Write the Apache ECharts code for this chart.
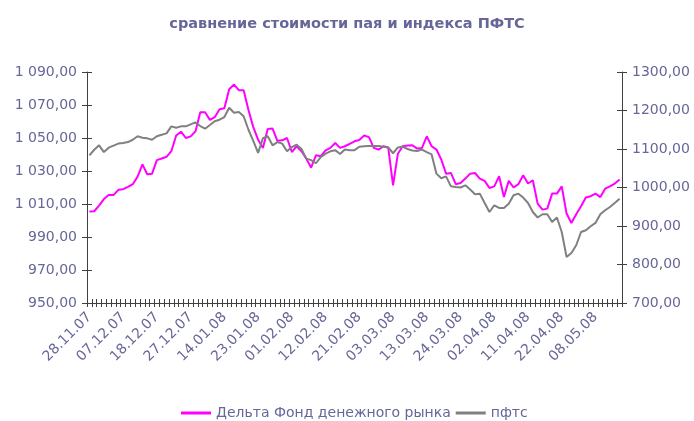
<!DOCTYPE html>
<html>
<head>
<meta charset="utf-8">
<script src="https://cdn.jsdelivr.net/npm/echarts@6/dist/echarts.min.js"></script>
<style>
  html, body { margin: 0; padding: 0; background: #fff; }
  #main { width: 694px; height: 421px; }
</style>
</head>
<body>
<div id="main"></div>
<script>
var dates = [
  "28.11.07", "29.11.07", "30.11.07", "03.12.07", "04.12.07", "05.12.07", "06.12.07",
  "07.12.07", "10.12.07", "11.12.07", "12.12.07", "13.12.07", "14.12.07", "17.12.07",
  "18.12.07", "19.12.07", "20.12.07", "21.12.07", "24.12.07", "25.12.07", "26.12.07",
  "27.12.07", "28.12.07", "03.01.08", "08.01.08", "09.01.08", "10.01.08", "11.01.08",
  "14.01.08", "15.01.08", "16.01.08", "17.01.08", "18.01.08", "21.01.08", "22.01.08",
  "23.01.08", "24.01.08", "25.01.08", "28.01.08", "29.01.08", "30.01.08", "31.01.08",
  "01.02.08", "04.02.08", "05.02.08", "06.02.08", "07.02.08", "08.02.08", "11.02.08",
  "12.02.08", "13.02.08", "14.02.08", "15.02.08", "18.02.08", "19.02.08", "20.02.08",
  "21.02.08", "22.02.08", "25.02.08", "26.02.08", "27.02.08", "28.02.08", "29.02.08",
  "03.03.08", "04.03.08", "05.03.08", "06.03.08", "07.03.08", "11.03.08", "12.03.08",
  "13.03.08", "14.03.08", "17.03.08", "18.03.08", "19.03.08", "20.03.08", "21.03.08",
  "24.03.08", "25.03.08", "26.03.08", "27.03.08", "28.03.08", "31.03.08", "01.04.08",
  "02.04.08", "03.04.08", "04.04.08", "07.04.08", "08.04.08", "09.04.08", "10.04.08",
  "11.04.08", "14.04.08", "15.04.08", "16.04.08", "17.04.08", "18.04.08", "21.04.08",
  "22.04.08", "23.04.08", "24.04.08", "25.04.08", "29.04.08", "06.05.08", "07.05.08",
  "08.05.08", "12.05.08", "13.05.08", "14.05.08", "15.05.08", "16.05.08"
];

// стоимость пая (левая ось)
var fundValues = [
  1005.4, 1005.6, 1009, 1013, 1015.4, 1015.4, 1018.6, 1019, 1020.4, 1022,
  1026.6, 1034, 1028, 1028.4, 1036.6, 1037.6, 1038.6, 1042, 1051.5, 1053.8,
  1050, 1051, 1054, 1065.6, 1065.6, 1061, 1062.6, 1067.4, 1068, 1079.6,
  1082.4, 1079, 1079, 1067, 1056.6, 1049, 1044, 1055.5, 1055.7, 1048.3,
  1048.6, 1050, 1041.5, 1045, 1042, 1037.5, 1032, 1039.5, 1039, 1042.5,
  1044, 1047, 1044, 1045, 1046.5, 1048, 1048.8, 1051.5, 1050.5, 1044,
  1043, 1045, 1044.2, 1021.3, 1040.5, 1045, 1045.5, 1045.6, 1043.6, 1044,
  1051, 1045, 1043, 1037, 1028.4, 1028.8, 1022, 1022.7, 1025.4, 1028.4,
  1028.8, 1025.4, 1024, 1019.7, 1020.7, 1026.8, 1014.2, 1024, 1020, 1022,
  1027.4, 1022.4, 1024.4, 1010.2, 1006.6, 1007.2, 1016.3, 1016.3, 1020.7, 1004.2,
  998.5, 1003.8, 1008.6, 1013.9, 1014.7, 1016.3, 1014.2, 1019.3, 1020.7, 1022.4,
  1024.8
];

// индекс ПФТС (правая ось)
var pftsValues = [
  1083.5, 1098, 1109.5, 1092, 1103.4, 1108.6, 1114, 1115.5, 1118, 1124,
  1133, 1129.4, 1127.7, 1124, 1133, 1137, 1140.6, 1158.8, 1155, 1158.8,
  1158.8, 1164, 1169, 1159.7, 1152.8, 1162.3, 1172, 1176, 1183, 1207,
  1194, 1196, 1185, 1150, 1121, 1090, 1128, 1133, 1109.6, 1118,
  1114, 1094, 1105, 1111, 1100, 1075, 1071, 1063, 1079, 1088,
  1094, 1097, 1087, 1098.5, 1097, 1097, 1106, 1107, 1108, 1108,
  1108, 1106, 1104, 1089, 1104, 1106, 1100, 1096, 1095, 1098.5,
  1092, 1086, 1036, 1024, 1029, 1003, 1001.4, 1000, 1005.7, 994.6,
  982.4, 984, 959.8, 936.4, 953.8, 946.8, 946.8, 958, 980, 984,
  973.8, 959.8, 936.4, 922, 930.5, 930.5, 910.5, 922, 884.5, 819.6,
  830, 850, 884.5, 889, 899.3, 908, 930.5, 941, 949.4, 959.8,
  971
];

var leftTicks = [950, 1090, 20];
var rightTicks = [700, 1300, 100];

var textColor = "#666699";
var axisColor = "#404040";
var font = "DejaVu Sans";

function fmtLeft(v) {
  var s = v.toFixed(2).replace(".", ",");
  var parts = s.split(",");
  var intPart = parts[0].replace(/\B(?=(\d{3})+(?!\d))/g, " ");
  return intPart + "," + parts[1];
}

function fmtRight(v) {
  return v.toFixed(2).replace(".", ",");
}

var myChart = echarts.init(document.getElementById("main"));

myChart.setOption({
  animation: false,
  textStyle: { fontFamily: font },
  title: {
    text: "сравнение стоимости пая и индекса ПФТС",
    left: "center",
    top: 12,
    textStyle: { color: textColor, fontSize: 14.5, fontWeight: "bold", fontFamily: font }
  },
  legend: {
    left: 176,
    top: 401,
    itemWidth: 30,
    itemHeight: 3,
    itemGap: 5,
    icon: "rect",
    textStyle: { color: textColor, fontSize: 14, fontFamily: font },
    data: ["Дельта Фонд денежного рынка", "пфтс"]
  },
  grid: { left: 87, right: 72, top: 72, bottom: 118 },
  xAxis: [
    {
      type: "category",
      data: dates,
      boundaryGap: true,
      position: "bottom",
      axisLine: { show: true, onZero: false, lineStyle: { color: axisColor, width: 1 } },
      axisTick: { show: true, interval: 0, length: 4, lineStyle: { color: axisColor } },
      axisLabel: {
        interval: 6,
        rotate: 45,
        color: textColor,
        fontSize: 14,
        margin: 12,
        fontFamily: font
      },
      splitLine: { show: false }
    },
    {
      // внутренняя половина засечек
      type: "category",
      data: dates,
      boundaryGap: true,
      position: "bottom",
      offset: 0,
      axisLine: { show: false, onZero: false },
      axisTick: { show: true, interval: 0, inside: true, length: 4, lineStyle: { color: axisColor } },
      axisLabel: { show: false },
      splitLine: { show: false }
    }
  ],
  yAxis: [
    {
      type: "value",
      position: "left",
      min: leftTicks[0],
      max: leftTicks[1],
      interval: leftTicks[2],
      axisLine: { show: true, lineStyle: { color: axisColor } },
      axisTick: { show: true, length: 5, lineStyle: { color: axisColor } },
      axisLabel: { color: textColor, fontSize: 14, margin: 10, formatter: fmtLeft, fontFamily: font },
      splitLine: { show: false }
    },
    {
      type: "value",
      position: "right",
      min: rightTicks[0],
      max: rightTicks[1],
      interval: rightTicks[2],
      axisLine: { show: true, lineStyle: { color: axisColor } },
      axisTick: { show: true, length: 5, lineStyle: { color: axisColor } },
      axisLabel: { color: textColor, fontSize: 14, margin: 10, formatter: fmtRight, fontFamily: font },
      splitLine: { show: false }
    },
    {
      type: "value",
      position: "left",
      min: leftTicks[0],
      max: leftTicks[1],
      interval: leftTicks[2],
      axisLine: { show: false },
      axisTick: { show: true, inside: true, length: 5, lineStyle: { color: axisColor } },
      axisLabel: { show: false },
      splitLine: { show: false }
    },
    {
      type: "value",
      position: "right",
      min: rightTicks[0],
      max: rightTicks[1],
      interval: rightTicks[2],
      axisLine: { show: false },
      axisTick: { show: true, inside: true, length: 5, lineStyle: { color: axisColor } },
      axisLabel: { show: false },
      splitLine: { show: false }
    }
  ],
  series: [
    {
      name: "Дельта Фонд денежного рынка",
      type: "line",
      yAxisIndex: 0,
      data: fundValues,
      symbol: "none",
      color: "#FF00FF",
      lineStyle: { width: 2, color: "#FF00FF" }
    },
    {
      name: "пфтс",
      type: "line",
      yAxisIndex: 1,
      data: pftsValues,
      symbol: "none",
      color: "#808080",
      lineStyle: { width: 2, color: "#808080" }
    }
  ]
});
</script>
</body>
</html>
